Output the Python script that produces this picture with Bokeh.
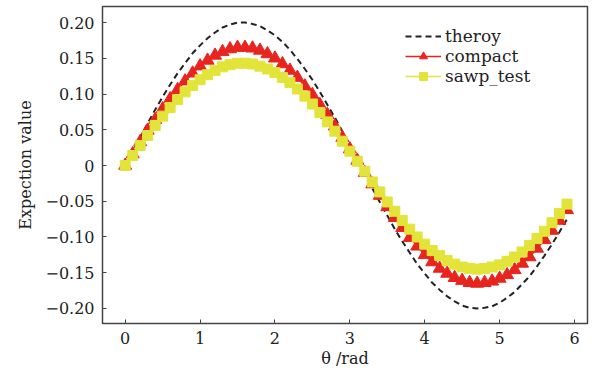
from bokeh.plotting import figure
from bokeh.models import Range1d, Legend, LegendItem, CustomJSTickFormatter, FixedTicker
from bokeh.embed import file_html
from bokeh.resources import INLINE

theta = [round(i * 0.1, 1) for i in range(60)]

theory = [0.000, 0.020, 0.040, 0.059, 0.078, 0.096, 0.113, 0.129, 0.143, 0.157,
          0.168, 0.178, 0.186, 0.193, 0.197, 0.200, 0.200, 0.198, 0.195, 0.189,
          0.182, 0.173, 0.162, 0.149, 0.135, 0.120, 0.103, 0.085, 0.067, 0.048,
          0.028, 0.008, -0.012, -0.032, -0.051, -0.070, -0.089, -0.106, -0.122, -0.138,
          -0.151, -0.164, -0.174, -0.183, -0.190, -0.196, -0.199, -0.200, -0.199, -0.197,
          -0.192, -0.185, -0.177, -0.166, -0.155, -0.141, -0.126, -0.110, -0.093, -0.075]

compact = [0.000, 0.016, 0.033, 0.049, 0.064, 0.079, 0.093, 0.106, 0.118, 0.129,
           0.139, 0.147, 0.154, 0.159, 0.163, 0.165, 0.165, 0.164, 0.161, 0.156,
           0.150, 0.142, 0.133, 0.123, 0.111, 0.099, 0.085, 0.071, 0.055, 0.039,
           0.023, 0.007, -0.010, -0.026, -0.042, -0.058, -0.073, -0.087, -0.101, -0.113,
           -0.125, -0.135, -0.144, -0.151, -0.157, -0.161, -0.164, -0.165, -0.164, -0.162,
           -0.158, -0.153, -0.146, -0.137, -0.128, -0.116, -0.104, -0.091, -0.077, -0.062]

sawp_test = [0.000, 0.014, 0.028, 0.042, 0.056, 0.069, 0.081, 0.092, 0.103, 0.112,
             0.120, 0.127, 0.133, 0.138, 0.141, 0.143, 0.143, 0.142, 0.139, 0.135,
             0.130, 0.123, 0.116, 0.107, 0.097, 0.086, 0.074, 0.061, 0.048, 0.034,
             0.020, 0.006, -0.008, -0.023, -0.037, -0.051, -0.064, -0.077, -0.089, -0.100,
             -0.110, -0.119, -0.126, -0.133, -0.138, -0.142, -0.144, -0.145, -0.144, -0.142,
             -0.139, -0.134, -0.128, -0.121, -0.112, -0.102, -0.092, -0.080, -0.067, -0.054]

x_ticks = [0, 1, 2, 3, 4, 5, 6]
y_ticks = [-0.20, -0.15, -0.10, -0.05, 0.0, 0.05, 0.10, 0.15, 0.20]

FONT = "DejaVu Serif"
RED = "#e8241e"
YELLOW = "#e2e43a"
TEXT = "#222222"

p = figure(width=592, height=370, output_backend="svg", toolbar_location=None,
           x_range=Range1d(-0.303, 6.174), y_range=Range1d(-0.221, 0.2224),
           min_border_left=102, min_border_right=5, min_border_top=6, min_border_bottom=47)
p.grid.visible = False
p.background_fill_color = "white"
p.outline_line_color = "#444444"
p.outline_line_width = 1.5

r_th = p.line(theta, theory, line_color=TEXT, line_width=2, line_dash="6 4")
r_cl = p.line(theta, compact, line_color=RED, line_width=1.5)
r_cm = p.scatter(theta, compact, marker="triangle", size=13, fill_color=RED, line_color=RED)
r_sl = p.line(theta, sawp_test, line_color=YELLOW, line_width=1.5)
r_sm = p.scatter(theta, sawp_test, marker="square", size=10, fill_color=YELLOW, line_color=YELLOW)

for ax in (p.xaxis[0], p.yaxis[0]):
    ax.major_tick_in = 4
    ax.major_tick_out = 0
    ax.minor_tick_in = 0
    ax.minor_tick_out = 0
    ax.axis_line_color = None
    ax.major_tick_line_color = "#444444"
    ax.major_label_text_font = FONT
    ax.major_label_text_font_size = "16px"
    ax.major_label_text_color = TEXT
    ax.axis_label_text_font = FONT
    ax.axis_label_text_font_size = "16px"
    ax.axis_label_text_font_style = "normal"
    ax.axis_label_text_color = TEXT

p.xaxis.ticker = FixedTicker(ticks=x_ticks)
p.yaxis.ticker = FixedTicker(ticks=y_ticks)
p.yaxis.formatter = CustomJSTickFormatter(code="""
if (Math.abs(tick) < 1e-9) return "0";
var s = Math.abs(tick).toFixed(2);
return tick < 0 ? "\u2212" + s : s;
""")
p.xaxis.formatter = CustomJSTickFormatter(code="return tick.toFixed(0);")
p.xaxis.axis_label = "\u03b8 /rad"
p.yaxis.axis_label = "Expection value"
p.xaxis.major_label_standoff = 8
p.yaxis.major_label_standoff = 8
p.xaxis.axis_label_standoff = 2
p.yaxis.axis_label_standoff = 7

legend = Legend(items=[
    LegendItem(label="theroy", renderers=[r_th]),
    LegendItem(label="compact", renderers=[r_cl, r_cm]),
    LegendItem(label="sawp_test", renderers=[r_sl, r_sm]),
], location=(303, 237))
legend.border_line_color = None
legend.background_fill_alpha = 0
legend.padding = 0
legend.spacing = 0
legend.margin = 0
legend.label_text_font = FONT
legend.label_text_font_size = "17px"
legend.label_text_color = TEXT
legend.glyph_width = 36
legend.glyph_height = 20
legend.label_height = 20
legend.label_standoff = 4
p.add_layout(legend, "center")

open("out.html", "w").write(file_html(p, INLINE))
